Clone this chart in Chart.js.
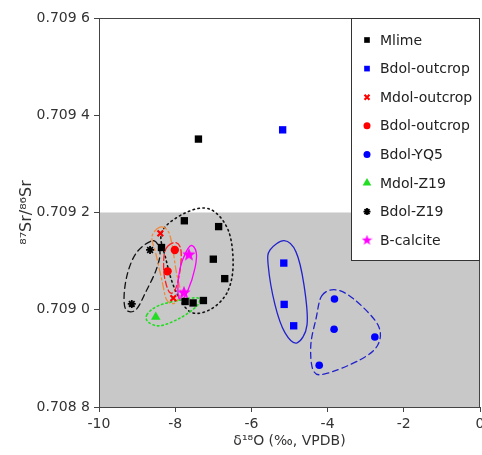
<!DOCTYPE html>
<html>
<head>
<meta charset="utf-8">
<script src="https://cdn.jsdelivr.net/npm/chart.js@4.4.0/dist/chart.umd.min.js"></script>
<style>
  html, body { margin: 0; padding: 0; background: #fff; }
  #wrap { width: 482px; height: 455px; }
</style>
</head>
<body>
<div id="wrap"><canvas id="sr-chart" width="482" height="455"></canvas></div>
<script>
// axis ticks and the grey seawater band
const xTicks = [-10, -8, -6, -4, -2, 0];
const yTicks = [0.7088, 0.7090, 0.7092, 0.7094, 0.7096];
const greyBand = [0.7088, 0.7092];

// sample groups: [d18O, 87Sr/86Sr]
const mlime = [[-7.39, 0.709351], [-7.76, 0.709183], [-6.86, 0.709171], [-8.36, 0.709128],
               [-7.00, 0.709104], [-6.70, 0.709064], [-7.74, 0.709017], [-7.53, 0.709014], [-7.26, 0.709019]];
const bdolOutcropSq = [[-5.18, 0.709370], [-5.15, 0.709096], [-5.14, 0.709011], [-4.89, 0.708967]];
const mdolOutcrop = [[-8.39, 0.709157], [-8.05, 0.709024]];
const bdolOutcropCi = [[-8.01, 0.709123], [-8.20, 0.709079]];
const bdolYQ5 = [[-3.82, 0.709022], [-3.83, 0.708960], [-2.76, 0.708944], [-4.22, 0.708886]];
const mdolZ19 = [[-8.51, 0.708985]];
const bdolZ19 = [[-8.66, 0.709123], [-9.14, 0.709012]];
const bCalcite = [[-7.64, 0.709113], [-7.77, 0.709035]];

// hand-drawn group outlines (data units)
const mlimeOutline = [[-8.35, 0.709160], [-8.24, 0.709103], [-8.00, 0.709041], [-7.61, 0.708996], [-7.09, 0.709000],
                      [-6.64, 0.709035], [-6.48, 0.709092], [-6.61, 0.709164], [-7.09, 0.709207], [-7.74, 0.709199]];
const bdolZ19Outline = [[-8.58, 0.709142], [-8.40, 0.709119], [-8.50, 0.709082], [-8.77, 0.709037], [-9.03, 0.709000],
                        [-9.29, 0.709000], [-9.34, 0.709031], [-9.24, 0.709078], [-9.00, 0.709119]];
const mdolOutline = [[-8.40, 0.709170], [-8.19, 0.709162], [-8.08, 0.709133], [-7.98, 0.709082], [-7.87, 0.709037],
                     [-8.00, 0.709014], [-8.22, 0.709020], [-8.35, 0.709061], [-8.50, 0.709113], [-8.61, 0.709150]];
const bdolCiOutline = [[-8.19, 0.709131], [-7.98, 0.709138], [-7.85, 0.709123], [-7.87, 0.709082], [-8.00, 0.709041],
                       [-8.16, 0.709037], [-8.29, 0.709072], [-8.29, 0.709113]];
const calciteOutline = [[-7.61, 0.709131], [-7.45, 0.709119], [-7.48, 0.709086], [-7.66, 0.709041], [-7.85, 0.709020],
                        [-7.93, 0.709041], [-7.85, 0.709092]];
const mdolZ19Outline = [[-8.74, 0.708990], [-8.45, 0.709008], [-7.87, 0.709020], [-7.40, 0.709024], [-7.43, 0.709008],
                        [-7.87, 0.708983], [-8.40, 0.708967], [-8.71, 0.708975]];
const bdolSqOutline = [[-5.51, 0.709123], [-5.14, 0.709142], [-4.83, 0.709119], [-4.62, 0.709051], [-4.54, 0.708969],
                       [-4.80, 0.708932], [-5.12, 0.708953], [-5.38, 0.709010], [-5.56, 0.709092]];
const yq5Outline = [[-4.15, 0.709029], [-3.78, 0.709041], [-3.28, 0.709020], [-2.68, 0.708969], [-2.68, 0.708928],
                    [-3.15, 0.708897], [-4.07, 0.708868], [-4.38, 0.708876], [-4.44, 0.708928], [-4.30, 0.708983]];

const FONT = "'DejaVu Sans', Verdana, sans-serif";

// five-point star used for B-calcite
function makeStar(size, color) {
    const c = document.createElement('canvas');
    c.width = c.height = size;
    const g = c.getContext('2d');
    const R = size / 2, r = R * 0.42;
    g.beginPath();
    for (let i = 0; i < 10; i++) {
        const a = -Math.PI / 2 + i * Math.PI / 5;
        const rr = i % 2 ? r : R;
        g.lineTo(R + rr * Math.cos(a), R + rr * Math.sin(a));
    }
    g.closePath();
    g.fillStyle = color;
    g.fill();
    return c;
}
const starBig = makeStar(14, '#ff00ff');
const starSmall = makeStar(11, '#ff00ff');

const toXY = arr => arr.map(p => ({x: p[0], y: p[1]}));

const groups = [
    {label: 'Mlime', data: mlime, style: 'rect', r: 5.2, color: '#000000', bw: 0, lr: 4},
    {label: 'Bdol-outcrop', data: bdolOutcropSq, style: 'rect', r: 5.2, color: '#0000ff', bw: 0, lr: 4},
    {label: 'Mdol-outcrop', data: mdolOutcrop, style: 'crossRot', r: 4, color: '#ff0000', bw: 2.2, lr: 3.5},
    {label: 'Bdol-outcrop', data: bdolOutcropCi, style: 'circle', r: 4.2, color: '#ff0000', bw: 0, lr: 3.5},
    {label: 'Bdol-YQ5', data: bdolYQ5, style: 'circle', r: 3.8, color: '#0000ff', bw: 0, lr: 3.5},
    {label: 'Mdol-Z19', data: mdolZ19, style: 'triangle', r: 5.5, color: '#22dd22', bw: 0, lr: 5},
    {label: 'Bdol-Z19', data: bdolZ19, style: 'star', r: 4, color: '#000000', bw: 1.8, lr: 3.5},
    {label: 'B-calcite', data: bCalcite, style: starBig, r: 7, color: '#ff00ff', bw: 0, lr: 5, legendStyle: starSmall}
];

const outlines = [
    {pts: mlimeOutline, color: '#111111', dash: [1.5, 3.5], width: 1.6},
    {pts: bdolZ19Outline, color: '#111111', dash: [6, 4], width: 1.3},
    {pts: mdolOutline, color: '#f08a3c', dash: [7, 3, 2, 3], width: 1.3},
    {pts: bdolCiOutline, color: '#ff2020', dash: [6, 3], width: 1.3},
    {pts: calciteOutline, color: '#ff00ff', dash: [], width: 1.3},
    {pts: mdolZ19Outline, color: '#22dd22', dash: [1.5, 3], width: 1.6},
    {pts: bdolSqOutline, color: '#2222cc', dash: [], width: 1.3},
    {pts: yq5Outline, color: '#2222cc', dash: [6, 4], width: 1.3}
];

function closedSpline(ctx, pts) {
    const n = pts.length;
    ctx.beginPath();
    ctx.moveTo(pts[0][0], pts[0][1]);
    for (let i = 0; i < n; i++) {
        const p0 = pts[(i - 1 + n) % n], p1 = pts[i], p2 = pts[(i + 1) % n], p3 = pts[(i + 2) % n];
        ctx.bezierCurveTo(p1[0] + (p2[0] - p0[0]) / 6, p1[1] + (p2[1] - p0[1]) / 6,
                          p2[0] - (p3[0] - p1[0]) / 6, p2[1] - (p3[1] - p1[1]) / 6, p2[0], p2[1]);
    }
    ctx.closePath();
    ctx.stroke();
}

// grey band + outlines under the points
const backdrop = {
    id: 'backdrop',
    beforeDatasetsDraw(chart) {
        const {ctx, chartArea: a, scales: {x, y}} = chart;
        ctx.save();
        const yTop = y.getPixelForValue(greyBand[1]);
        const yBot = y.getPixelForValue(greyBand[0]);
        ctx.fillStyle = '#c8c8c8';
        ctx.fillRect(a.left, yTop, a.right - a.left, yBot - yTop);
        outlines.forEach(o => {
            ctx.strokeStyle = o.color;
            ctx.lineWidth = o.width;
            ctx.setLineDash(o.dash);
            ctx.lineCap = 'round';
            closedSpline(ctx, o.pts.map(p => [x.getPixelForValue(p[0]), y.getPixelForValue(p[1])]));
        });
        ctx.restore();
    }
};

// frame and legend box on top
const frameLegend = {
    id: 'frameLegend',
    afterDraw(chart) {
        const {ctx, chartArea: a} = chart;
        ctx.save();
        ctx.strokeStyle = '#444';
        ctx.lineWidth = 1;
        ctx.strokeRect(a.left + 0.5, a.top + 0.5, a.right - a.left - 1, a.bottom - a.top);

        const bx = 351.5, by = a.top + 0.5, bw = a.right - 0.5 - bx, bh = 242;
        ctx.fillStyle = '#fff';
        ctx.fillRect(bx, by, bw, bh);
        ctx.strokeStyle = '#333';
        ctx.strokeRect(bx, by, bw, bh);

        ctx.font = '14px ' + FONT;
        ctx.textBaseline = 'middle';
        groups.forEach((g, i) => {
            const yy = 40 + i * 28.6;
            ctx.fillStyle = g.color;
            ctx.strokeStyle = g.color;
            ctx.lineWidth = g.bw || 1;
            ctx.setLineDash([]);
            Chart.helpers.drawPoint(ctx, {pointStyle: g.legendStyle || g.style, radius: g.lr, rotation: 0, borderWidth: g.bw}, 367, yy);
            ctx.fillStyle = '#222';
            ctx.fillText(g.label, 380, yy + 1);
        });
        ctx.restore();
    }
};

new Chart(document.getElementById('sr-chart'), {
    type: 'scatter',
    data: {
        datasets: groups.map(g => ({
            label: g.label,
            data: toXY(g.data),
            pointStyle: g.style,
            pointRadius: g.r,
            pointHoverRadius: g.r,
            backgroundColor: g.color,
            borderColor: g.color,
            borderWidth: g.bw
        }))
    },
    options: {
        responsive: false,
        animation: false,
        devicePixelRatio: 1,
        layout: {autoPadding: false, padding: {top: 18, right: 2, left: 0, bottom: 0}},
        plugins: {legend: {display: false}, tooltip: {enabled: false}},
        scales: {
            x: {
                type: 'linear',
                min: -10,
                max: 0,
                afterBuildTicks: s => { s.ticks = xTicks.map(v => ({value: v})); },
                afterFit: s => { s.height = 48; s.paddingLeft = 0; s.paddingRight = 0; },
                grid: {drawOnChartArea: false, drawTicks: true, tickLength: 5, color: '#444'},
                border: {display: true, color: '#444'},
                ticks: {color: '#333', font: {family: FONT, size: 14}, padding: 4, maxRotation: 0},
                title: {display: true, text: 'δ¹⁸O (‰, VPDB)', color: '#333', font: {family: FONT, size: 14}, padding: {top: 0, bottom: 5}}
            },
            y: {
                type: 'linear',
                min: 0.7088,
                max: 0.7096,
                afterBuildTicks: s => { s.ticks = yTicks.map(v => ({value: v})); },
                afterFit: s => { s.width = 99; s.paddingTop = 0; s.paddingBottom = 0; },
                grid: {drawOnChartArea: false, drawTicks: true, tickLength: 5, color: '#444'},
                border: {display: true, color: '#444'},
                ticks: {
                    color: '#333',
                    font: {family: FONT, size: 14},
                    padding: 4,
                    callback: v => { const s = v.toFixed(4); return s.slice(0, 5) + ' ' + s.slice(5); }
                },
                title: {display: true, text: '⁸⁷Sr/⁸⁶Sr', color: '#333', font: {family: FONT, size: 16}, padding: {top: 17, bottom: 0}}
            }
        }
    },
    plugins: [backdrop, frameLegend]
});
</script>
</body>
</html>
